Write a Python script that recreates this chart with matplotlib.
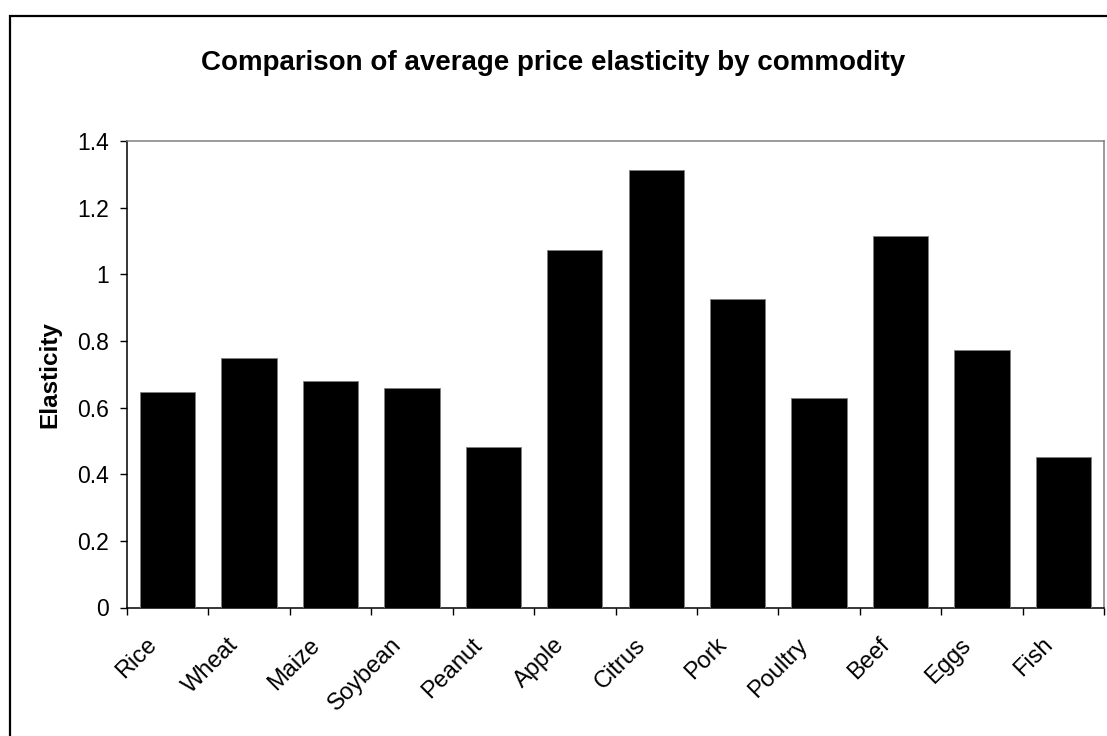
import matplotlib
matplotlib.use("Agg")
import matplotlib.pyplot as plt
from matplotlib.patches import Rectangle
from matplotlib.transforms import ScaledTranslation
import numpy as np

plt.rcParams['font.family'] = ['Liberation Sans', 'DejaVu Sans']

commodities = ["Rice", "Wheat", "Maize", "Soybean", "Peanut", "Apple",
               "Citrus", "Pork", "Poultry", "Beef", "Eggs", "Fish"]
elasticity = [0.646, 0.748, 0.680, 0.658, 0.481, 1.074,
              1.313, 0.925, 0.629, 1.115, 0.772, 0.452]
yticks = [0, 0.2, 0.4, 0.6, 0.8, 1, 1.2, 1.4]
ytick_labels = ["0", "0.2", "0.4", "0.6", "0.8", "1", "1.2", "1.4"]

W, H = 1107, 736
fig = plt.figure(figsize=(W / 100, H / 100), dpi=100)
fig.patch.set_facecolor('white')

left, right, top, bottom = 127, 1104, 141, 607.5
ax = fig.add_axes([left / W, 1 - bottom / H, (right - left) / W, (bottom - top) / H])

x = np.arange(len(commodities))
ax.bar(x, elasticity, width=0.68, color='black', edgecolor='#808080', linewidth=0.6, zorder=3)

ax.set_xlim(-0.5, len(commodities) - 0.5)
ax.set_ylim(0, 1.4)
ax.set_yticks(yticks)
ax.set_yticklabels(ytick_labels, fontsize=16.5)

ax.set_xticks(x)
ax.set_xticklabels(commodities, fontsize=17, rotation=45, ha='right', va='top',
                   rotation_mode='anchor')
ax.tick_params(axis='x', which='major', length=0, pad=19)
offset = ScaledTranslation(-22 / 100, 0, fig.dpi_scale_trans)
for lbl in ax.get_xticklabels():
    lbl.set_transform(lbl.get_transform() + offset)
ax.set_xticks(np.arange(-0.5, len(commodities)), minor=True)
ax.tick_params(axis='x', which='minor', length=5, width=1.0, direction='out', color='black')
ax.tick_params(axis='y', length=5, width=1.0, direction='out', color='black', pad=8)

for s in ['left', 'bottom']:
    ax.spines[s].set_color('black')
    ax.spines[s].set_linewidth(1.1)
for s in ['top', 'right']:
    ax.spines[s].set_color('#808080')
    ax.spines[s].set_linewidth(1.1)

ax.set_ylabel("Elasticity", fontsize=17.5, fontweight='bold', va='center')
ax.yaxis.set_label_coords((50 - left) / (right - left), 0.5)

fig.text(553 / W, 1 - 63 / H, "Comparison of average price elasticity by commodity",
         fontsize=20, fontweight='bold', ha='center', va='center')

border = Rectangle((10 / W, -0.1), 1.2, 1 - 16 / H + 0.1, transform=fig.transFigure,
                   fill=False, edgecolor='black', linewidth=1.6, clip_on=False)
fig.patches.append(border)

fig.savefig("out.png", dpi=100)
